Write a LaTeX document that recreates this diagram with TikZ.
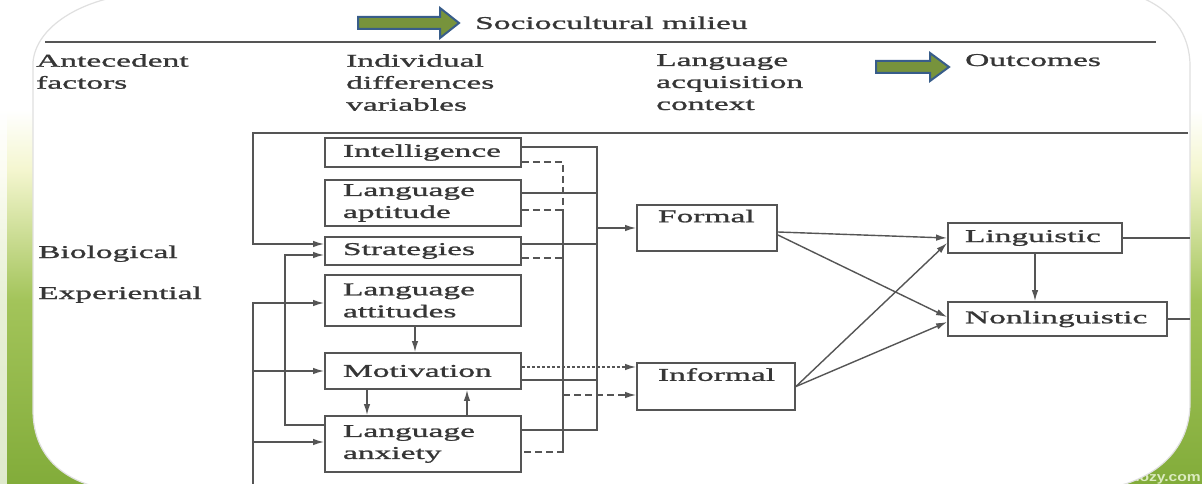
\documentclass[tikz,border=0pt]{standalone}
\usepackage{fontspec}
\newfontfamily\diafont{Liberation Serif}[FakeStretch=1.86,FakeBold=1.2]
\newfontfamily\wmfont{Liberation Sans}[FakeStretch=1.2]
\usetikzlibrary{arrows.meta,calc}
\definecolor{ink}{HTML}{363636}
\definecolor{lin}{HTML}{555555}
\definecolor{arrgreen}{HTML}{77933C}
\definecolor{arrblue}{HTML}{385D8A}
\definecolor{bgyel}{HTML}{F4F6CF}
\definecolor{bggreen}{HTML}{A3C45A}
\definecolor{bgdark}{HTML}{82AC3A}
\definecolor{wmcol}{HTML}{DCEBC0}
\begin{document}
\begin{tikzpicture}[x=1pt,y=-1pt,
  every node/.style={font=\diafont\fontsize{18pt}{22pt}\selectfont, text=ink},
  vbox/.style={draw=lin, line width=1.8pt, fill=white, rectangle, inner ysep=0pt, align=left},
  ln/.style={draw=lin, line width=1.4pt},
  arr/.style={ln, -{Latex[length=11pt,width=6.5pt]}},
  dsh/.style={ln, dash pattern=on 7pt off 4pt},
  dtt/.style={ln, dash pattern=on 3pt off 2pt},
  hdr/.style={anchor=north west, inner sep=0pt, align=left},
  bigarrow/.style={fill=arrgreen, draw=arrblue, line width=2pt, line join=miter}
]
\useasboundingbox (0,0) rectangle (1202,484);
% background
\fill[white] (0,0) rectangle (1202,110);
\shade[top color=white, bottom color=bgyel] (0,110) rectangle (1202,170);
\shade[top color=bgyel, bottom color=bggreen] (0,170) rectangle (1202,300);
\shade[top color=bggreen, bottom color=bgdark] (0,300) rectangle (1202,484);
\fill[white, opacity=0.75] (0,0) rectangle (7,484);
\node[font=\wmfont\bfseries\fontsize{13pt}{13pt}\selectfont, text=wmcol, anchor=base east, inner sep=0pt] (wm) at (1201,481) {nozy.com};
% card
\filldraw[fill=white, draw=black!12, line width=1.2pt]
  (33,62) -- (33,410) .. controls (33,452) and (58,478) .. (100,488)
  -- (1110,488) .. controls (1158,478) and (1190,448) .. (1190,403)
  -- (1190,66) .. controls (1190,34) and (1172,10) .. (1140,-3)
  -- (115,-3) .. controls (72,6) and (36,30) .. (33,62) -- cycle;

% header
\filldraw[bigarrow] (358,17) -- (440,17) -- (440,8) -- (459,23) -- (440,38) -- (440,29) -- (358,29) -- cycle;
\filldraw[bigarrow] (876,61) -- (930,61) -- (930,53) -- (949,67) -- (930,81) -- (930,73) -- (876,73) -- cycle;
\node[anchor=base west, inner sep=0pt] (socio) at (475,29) {Sociocultural milieu};
\coordinate (h1) at (45,42);
\coordinate (h2) at (1156,42);
\draw[ln] (h1) -- (h2);
\node[hdr] (ante) at (36,54) {Antecedent\\factors};
\node[hdr] (indiv) at (346,54) {Individual\\differences\\variables};
\node[hdr] (lac) at (656,54) {Language\\acquisition\\context};
\node[anchor=base west, inner sep=0pt] (outc) at (965,66) {Outcomes};
\node[anchor=base west, inner sep=0pt] (bio) at (38,258) {Biological};
\node[anchor=base west, inner sep=0pt] (exp) at (38,299) {Experiential};

% individual difference boxes
\node[vbox, text width=160pt, inner xsep=18pt, minimum height=29pt] (intel) at (423,152.5) {Intelligence};
\node[vbox, text width=160pt, inner xsep=18pt, minimum height=46pt] (apt) at (423,203) {Language\\aptitude};
\node[vbox, text width=160pt, inner xsep=18pt, minimum height=28pt] (strat) at (423,251) {Strategies};
\node[vbox, text width=160pt, inner xsep=18pt, minimum height=51pt] (att) at (423,300.5) {Language\\attitudes};
\node[vbox, text width=160pt, inner xsep=18pt, minimum height=36pt] (mot) at (423,371) {Motivation};
\node[vbox, text width=160pt, inner xsep=18pt, minimum height=56pt] (anx) at (423,444) {Language\\anxiety};
% context boxes
\node[vbox, text width=98pt, inner xsep=21pt, minimum height=46pt] (form) at (707,228) {Formal\\[2pt]\mbox{}};
\node[vbox, text width=116pt, inner xsep=21pt, minimum height=47pt] (inf) at (716,386.5) {Informal\\[2pt]\mbox{}};
% outcome boxes
\node[vbox, text width=140pt, inner xsep=17pt, minimum height=30pt] (ling) at (1035,238) {Linguistic};
\node[vbox, text width=185pt, inner xsep=17pt, minimum height=34pt] (nonl) at (1057.5,319) {Nonlinguistic};

% left-side connectors
\coordinate (tl) at (253,133);
\coordinate (tr) at (1188,133);
\coordinate (lb) at (253,486);
\coordinate (fbx) at (285,340);
\draw[arr] (tr) -- (tl) |- ([yshift=7pt]strat.west);
\draw[arr] (lb) |- ([yshift=-2.5pt]att.west);
\draw[arr] (lb) |- (mot.west);
\draw[arr] (lb) |- ([yshift=2pt]anx.west);
\draw[arr] ([yshift=19pt]anx.west) -| (fbx) |- ([yshift=-4pt]strat.west);
% vertical arrows between boxes
\draw[arr] ([xshift=-8pt]att.south) -- ([xshift=-8pt]mot.north);
\draw[arr] ([xshift=-56pt]mot.south) -- ([xshift=-56pt]anx.north);
\draw[arr] ([xshift=44pt]anx.north) -- ([xshift=44pt]mot.south);

% solid bus
\coordinate (sbT) at (597,147);
\coordinate (sbB) at (597,430);
\coordinate (sbF) at (597,228);
\draw[ln] ([yshift=5.5pt]intel.east) -- (sbT) -- (sbB) -- ([yshift=14pt]anx.east);
\draw[ln] ([yshift=10pt]apt.east) -| (sbB);
\draw[ln] ([yshift=7pt]strat.east) -| (sbB);
\draw[ln] ([yshift=-9pt]mot.east) -| (sbB);
\draw[arr] (sbF) -- (form.west);
% dashed bus
\coordinate (dbT) at (563,162);
\coordinate (dbB) at (563,452);
\coordinate (dbI) at (563,395);
\draw[dsh] ([yshift=-9.5pt]intel.east) -- (dbT) -- (dbB) -- ([yshift=-8pt]anx.east);
\draw[dsh] ([yshift=-7pt]apt.east) -| (dbB);
\draw[dsh] ([yshift=-7pt]strat.east) -| (dbB);
\draw[dsh, -{Latex[length=11pt,width=6.5pt]}] (dbI) -- ([yshift=-8.5pt]inf.west);
% dotted
\draw[dtt, -{Latex[length=11pt,width=6.5pt]}] ([yshift=4pt]mot.east) -- ([yshift=19.5pt]inf.west);

% context to outcomes
\draw[arr] ([yshift=-4pt]form.east) -- (ling.west);
\draw[arr] ([yshift=-7pt]form.east) -- ([yshift=2pt]nonl.west);
\draw[arr] (inf.east) -- ([yshift=-5pt]ling.west);
\draw[arr] (inf.east) -- ([yshift=-3pt]nonl.west);
\draw[arr] (ling.south) -- (ling.south |- nonl.north);
\coordinate (cr) at (1190,0);
\draw[ln] (ling.east) -- (ling.east -| cr);
\draw[ln] (nonl.east) -- (nonl.east -| cr);
\end{tikzpicture}
\end{document}
